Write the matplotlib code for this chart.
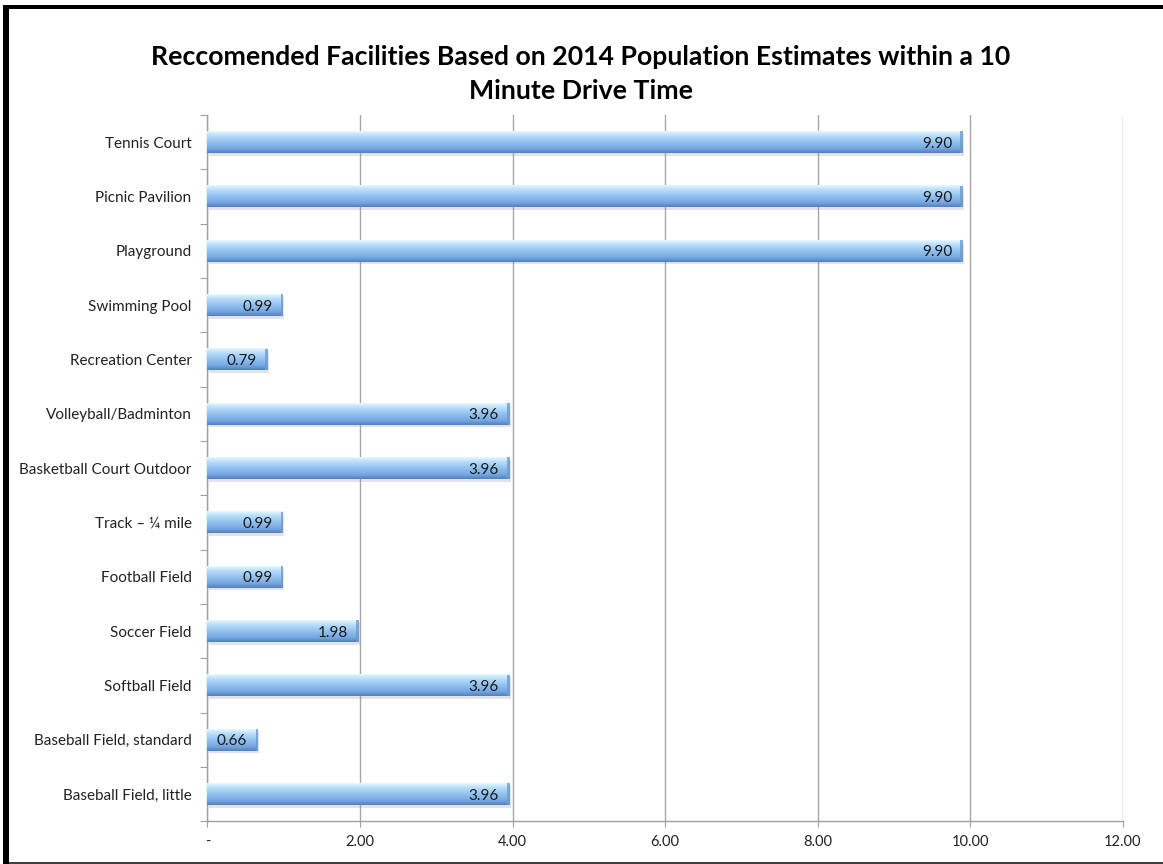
import numpy as np
import matplotlib
matplotlib.use('Agg')
import matplotlib.pyplot as plt
from matplotlib.colors import LinearSegmentedColormap
from matplotlib.patches import Rectangle
import matplotlib.patheffects as pe

# Facilities, listed top to bottom
facilities = ['Tennis Court', 'Picnic Pavilion', 'Playground', 'Swimming Pool',
              'Recreation Center', 'Volleyball/Badminton', 'Basketball Court Outdoor',
              'Track \u2013 \u00bc mile', 'Football Field', 'Soccer Field',
              'Softball Field', 'Baseball Field, standard', 'Baseball Field, little']
recommended = [9.90, 9.90, 9.90, 0.99, 0.79, 3.96, 3.96, 0.99, 0.99, 1.98, 3.96, 0.66, 3.96]
x_ticks = [0, 2, 4, 6, 8, 10, 12]
x_labels = ['-', '2.00', '4.00', '6.00', '8.00', '10.00', '12.00']

title = 'Reccomended Facilities Based on 2014 Population Estimates within a 10\nMinute Drive Time'

plt.rcParams['font.family'] = ['Lato', 'DejaVu Sans']

fig = plt.figure(figsize=(11.63, 8.64), dpi=100)
ax = fig.add_axes([0.1784, 0.0495, 0.7872, 0.8175])

# vertical shading for the bars: light top, deeper blue bottom
bar_cmap = LinearSegmentedColormap.from_list('bar', [
    (0.0, '#e8f8ff'), (0.15, '#c2e4fd'), (0.45, '#98c6f2'),
    (0.8, '#76a7e0'), (1.0, '#5380bb')])
grad = np.linspace(0, 1, 64).reshape(-1, 1)

n = len(facilities)
ypos = np.arange(n)
h = 0.4

# soft shadow under each bar
ax.barh(ypos, recommended, height=h, color='#8fa8c8', edgecolor='none', zorder=2,
        path_effects=[pe.SimplePatchShadow(offset=(1, -2), shadow_rgbFace='#909090', alpha=0.25),
                      pe.Normal()])
for y, v in zip(ypos, recommended):
    ax.imshow(grad, cmap=bar_cmap, aspect='auto', interpolation='bilinear',
              extent=(0, v, y + h / 2, y - h / 2), zorder=3)
    # darker rim at the bar end
    ax.add_patch(Rectangle((v - 0.03, y - h / 2), 0.03, h, facecolor='#6d9bd3',
                           edgecolor='none', alpha=0.8, zorder=4))
    ax.text(v - 0.14, y, f'{v:.2f}', ha='right', va='center_baseline', fontsize=11,
            color='#1a1a1a', zorder=5)

ax.set_xlim(0, 12)
ax.set_ylim(n - 0.5, -0.5)

ax.set_xticks(x_ticks)
ax.set_xticklabels(x_labels, fontsize=10.5, color='#222222')
ax.tick_params(axis='x', length=4, color='#a0a0a0', pad=6)

# category boundaries carry the tick marks, names sit at the centres
ax.set_yticks(np.arange(n + 1) - 0.5)
ax.set_yticklabels([])
ax.set_yticks(ypos, minor=True)
ax.set_yticklabels(facilities, minor=True, fontsize=11, color='#222222')
ax.tick_params(axis='y', which='major', length=5, color='#a0a0a0')
ax.tick_params(axis='y', which='minor', length=0, pad=11.5)

ax.grid(axis='x', color='#a8a8a8', lw=1, zorder=0)
ax.set_axisbelow(True)
for side in ['top', 'right']:
    ax.spines[side].set_visible(False)
for side in ['left', 'bottom']:
    ax.spines[side].set_color('#a0a0a0')
    ax.spines[side].set_linewidth(1)

fig.text(0.4995, 0.9138, title, ha='center', va='center', fontsize=19.2,
         fontweight='bold', linespacing=1.5, color='black')

# frame around the chart
W, H = 1163, 864
fig.add_artist(Rectangle((3 / W, 0), 6 / W, 1 - 5 / H, transform=fig.transFigure,
                         facecolor='black', edgecolor='none'))
fig.add_artist(Rectangle((3 / W, 1 - 9 / H), 1, 4 / H, transform=fig.transFigure,
                         facecolor='black', edgecolor='none'))
fig.add_artist(Rectangle((9 / W, 0), 1, 2.5 / H, transform=fig.transFigure,
                         facecolor='#404040', edgecolor='none'))

fig.savefig('out.png', dpi=100)
